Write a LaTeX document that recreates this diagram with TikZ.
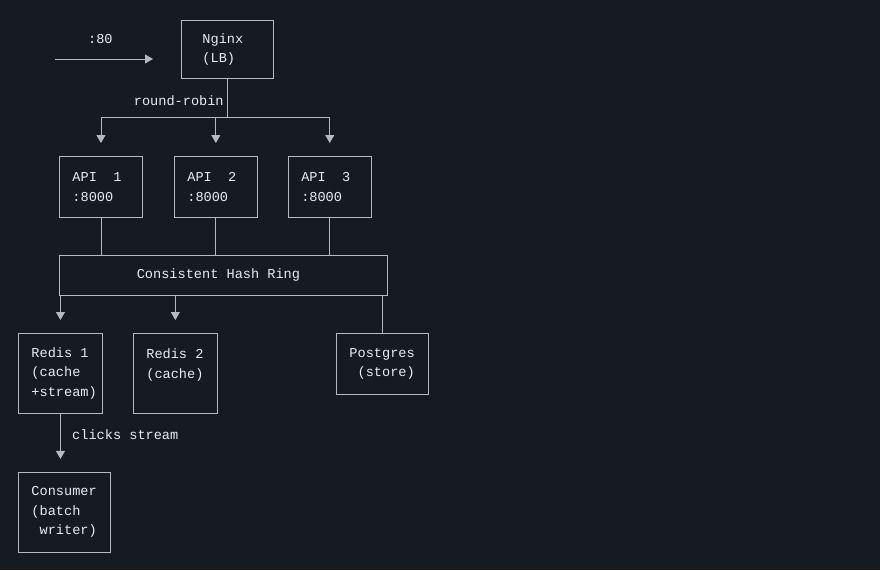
\documentclass[tikz,border=0pt]{standalone}
\usepackage{fontspec}
\setmonofont{Liberation Mono}
\usepackage{tikz}
\usetikzlibrary{arrows.meta, positioning}
\definecolor{asciiBg}{HTML}{161B22}
\definecolor{asciiLine}{HTML}{B4BAC2}
\definecolor{asciiText}{HTML}{E6EDF3}

\begin{document}
\begin{tikzpicture}[
  x=1pt, y=-1pt,
  every node/.style={font=\ttfamily\fontsize{13.6}{19.5}\selectfont, text=asciiText},
  box/.style={draw=asciiLine, line width=0.9pt, align=flush left, text width=#1,
              inner xsep=13pt, inner ysep=0pt, minimum height=61pt, anchor=north west},
  tall/.style={minimum height=80pt},
  link/.style={draw=asciiLine, line width=0.9pt},
  flow/.style={link, -{Triangle[width=9pt,length=8pt]}, shorten >=13pt}
]
  \fill[asciiBg] (0,0) rectangle (880,570);

  \node[box=50pt, inner xsep=21pt, minimum height=58pt] (nginx) at (181,20) {Nginx\\(LB)};
  \node[box=57pt] (api1) at (59,156) {API~~1\\:8000};
  \node[box=57pt, right=31pt of api1] (api2) {API~~2\\:8000};
  \node[box=57pt, right=30pt of api2] (api3) {API~~3\\:8000};
  \node[draw=asciiLine, line width=0.9pt, minimum width=328pt, minimum height=40pt,
        anchor=north west] (ring) at (59,255) {Consistent Hash Ring\hspace*{10pt}};
  \node[box=58pt, tall] (redis1) at (18,333) {Redis 1\\(cache\\+stream)};
  \node[box=58pt, tall, right=30pt of redis1] (redis2) {Redis 2\\(cache)\\~};
  \node[box=66pt] (pg) at (336,333) {Postgres\\~(store)};
  \node[box=66pt, tall, below=58pt of redis1.south west, anchor=north west] (consumer)
       {Consumer\\(batch\\~writer)};

  \coordinate (client) at (55,59);
  \coordinate (fork) at ([yshift=-39pt]nginx.south);

  \draw[flow, shorten >=28pt] (client) -- node[pos=0.36, yshift=20pt]{:80} (client -| nginx.west);
  \draw[link] (nginx.south) -- node[left, pos=0.55]{round-robin} (fork);
  \draw[link] (fork -| api1.north) -- (fork -| api3.north);
  \foreach \api in {api1, api2, api3} {
    \draw[flow] (fork -| \api.north) -- (\api.north);
    \draw[link] (\api.south) -- (\api.south |- ring.north);
  }
  \draw[flow] (ring.south -| redis1.north) -- (redis1.north);
  \draw[flow] (ring.south -| redis2.north) -- (redis2.north);
  \draw[link] (ring.south -| pg.north) -- (pg.north);
  \draw[flow] (redis1.south) -- node[right=8pt, pos=0.36]{clicks stream} (redis1.south |- consumer.north);
\end{tikzpicture}
\end{document}
